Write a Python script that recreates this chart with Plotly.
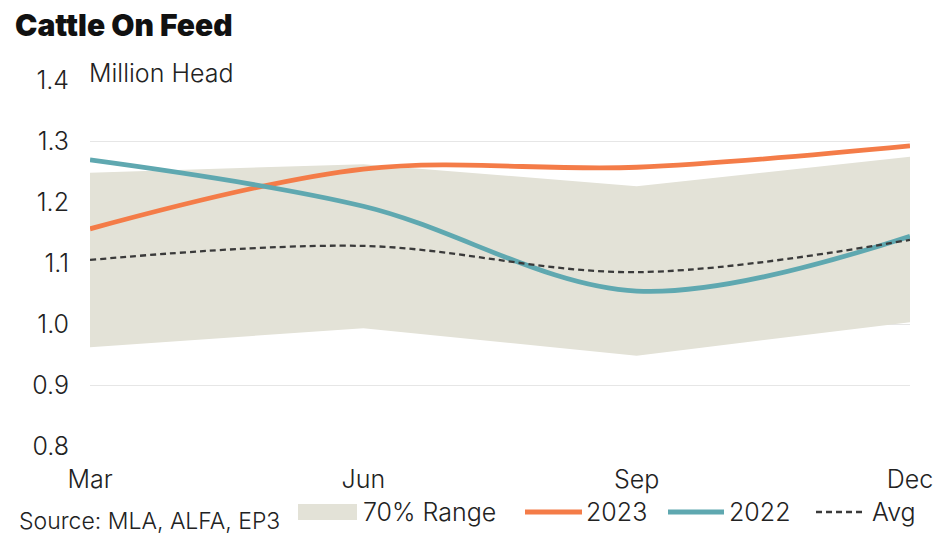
import plotly.graph_objects as go

months = ["Mar", "Jun", "Sep", "Dec"]
range_upper = [1.248, 1.262, 1.226, 1.274]
range_lower = [0.962, 0.993, 0.948, 1.003]
s2023 = [1.156, 1.254, 1.257, 1.292]
s2022 = [1.269, 1.193, 1.054, 1.144]
avg = [1.105, 1.128, 1.085, 1.138]
yticks = [0.8, 0.9, 1.0, 1.1, 1.2, 1.3, 1.4]

xs = list(range(len(months)))
FONT = "Inter"
TXT = "#222222"
BAND = "#E3E2D7"
C2023 = "#F47C48"
C2022 = "#5FA8B0"
CAVG = "#3a3a3a"

W, H = 949, 539
ML, MR, MT, MB = 90, 39, 80, 93
PW, PH = W - ML - MR, H - MT - MB


def px_x(px):
    return (px - ML) / PW


def px_y(py):
    return (H - MB - py) / PH


fig = go.Figure()
fig.add_trace(go.Scatter(x=xs, y=range_upper, mode="lines", line=dict(width=0, color=BAND),
                         showlegend=False, hoverinfo="skip"))
fig.add_trace(go.Scatter(x=xs, y=range_lower, mode="lines", line=dict(width=0, color=BAND),
                         fill="tonexty", fillcolor=BAND, name="70% Range", showlegend=False))
fig.add_trace(go.Scatter(x=xs, y=s2023, mode="lines", name="2023", showlegend=False,
                         line=dict(color=C2023, width=4.8, shape="spline", smoothing=1.0)))
fig.add_trace(go.Scatter(x=xs, y=s2022, mode="lines", name="2022", showlegend=False,
                         line=dict(color=C2022, width=4.8, shape="spline", smoothing=1.0)))
fig.add_trace(go.Scatter(x=xs, y=avg, mode="lines", name="Avg", showlegend=False,
                         line=dict(color=CAVG, width=2.3, dash="6px,4px", shape="spline", smoothing=1.0)))

fig.update_layout(
    width=W, height=H,
    margin=dict(l=ML, r=MR, t=MT, b=MB, autoexpand=False),
    paper_bgcolor="white", plot_bgcolor="white",
    font=dict(family=FONT, size=25, color=TXT, weight=300),
    title=dict(text="Cattle On Feed", x=15/W, xanchor="left", y=1-25/H, yanchor="middle",
               font=dict(family=FONT, size=30, color="#111111", weight=900)),
    xaxis=dict(range=[0, 3], tickvals=xs, ticktext=months, showgrid=False, zeroline=False,
               showline=False, ticks="", ticklabelstandoff=16,
               tickfont=dict(size=25, color=TXT, weight=300)),
    yaxis=dict(range=[0.8, 1.4], tickvals=yticks, ticktext=[f"{v:.1f}" for v in yticks],
               showgrid=True, gridcolor="#E6E6E6", gridwidth=1, zeroline=False, showline=False,
               ticks="", ticklabelstandoff=20, tickfont=dict(size=25, color=TXT, weight=300)),
    showlegend=False,
)
fig.add_annotation(text="Million Head", xref="paper", yref="paper", x=px_x(87), y=px_y(73),
                   xanchor="left", yanchor="middle", showarrow=False,
                   font=dict(size=25, color=TXT, weight=300))
fig.add_annotation(text="Source: MLA, ALFA, EP3", xref="paper", yref="paper", x=px_x(17),
                   y=px_y(521), xanchor="left", yanchor="middle", showarrow=False,
                   font=dict(size=23, color=TXT, weight=300))

# custom legend
LY = 512
legend_items = [
    ("rect", BAND, None, 298, 357, "70% Range", 361),
    ("line", C2023, "solid", 525, 582, "2023", 584),
    ("line", C2022, "solid", 668, 724, "2022", 727),
    ("line", CAVG, "dash", 816, 862, "Avg", 870),
]
for kind, col, dash, x0, x1, label, tx in legend_items:
    if kind == "rect":
        fig.add_shape(type="rect", xref="paper", yref="paper", x0=px_x(x0), x1=px_x(x1),
                      y0=px_y(LY + 8), y1=px_y(LY - 8), fillcolor=col, line=dict(width=0))
    else:
        fig.add_shape(type="line", xref="paper", yref="paper", x0=px_x(x0), x1=px_x(x1),
                      y0=px_y(LY), y1=px_y(LY),
                      line=dict(color=col, width=5 if dash == "solid" else 2.5,
                                dash="solid" if dash == "solid" else "6px,4px"))
    fig.add_annotation(text=label, xref="paper", yref="paper", x=px_x(tx), y=px_y(LY),
                       xanchor="left", yanchor="middle", showarrow=False,
                       font=dict(size=25, color=TXT, weight=300))

fig.write_html("out.html", config={"displayModeBar": False},
               post_script="document.body.style.margin='0';")
